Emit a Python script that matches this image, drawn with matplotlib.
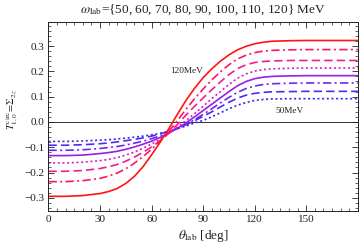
import numpy as np
import matplotlib
matplotlib.use("Agg")
import matplotlib.pyplot as plt
from matplotlib.ticker import MultipleLocator

plt.rcParams['font.family'] = ['Liberation Serif', 'DejaVu Serif']
plt.rcParams['mathtext.fontset'] = 'stix'

############################
# data #
############################

theta = [0, 10, 20, 30, 35, 40, 45, 50, 55, 60, 65, 70, 75, 80, 85, 90, 95, 100, 105, 110, 115, 120, 125, 130, 140, 150, 160, 170, 180]
energies = [50, 60, 70, 80, 90, 100, 110, 120]

t_50 = [-0.077, -0.077, -0.075, -0.072, -0.070, -0.067, -0.064, -0.060, -0.056, -0.051, -0.045, -0.037, -0.027, -0.016, -0.004, 0.006, 0.020, 0.036, 0.052, 0.066, 0.077, 0.085, 0.089, 0.091, 0.092, 0.092, 0.092, 0.092, 0.092]
t_60 = [-0.092, -0.092, -0.090, -0.086, -0.083, -0.079, -0.074, -0.069, -0.063, -0.056, -0.047, -0.037, -0.025, -0.011, 0.005, 0.022, 0.040, 0.059, 0.078, 0.094, 0.106, 0.113, 0.117, 0.119, 0.120, 0.121, 0.121, 0.121, 0.121]
t_70 = [-0.112, -0.112, -0.110, -0.105, -0.101, -0.097, -0.091, -0.084, -0.076, -0.066, -0.055, -0.042, -0.027, -0.010, 0.009, 0.030, 0.052, 0.075, 0.097, 0.117, 0.132, 0.142, 0.148, 0.151, 0.153, 0.154, 0.154, 0.154, 0.154]
t_80 = [-0.133, -0.133, -0.131, -0.125, -0.121, -0.116, -0.108, -0.099, -0.088, -0.076, -0.061, -0.044, -0.025, -0.004, 0.020, 0.045, 0.070, 0.095, 0.120, 0.143, 0.160, 0.171, 0.177, 0.180, 0.182, 0.183, 0.183, 0.183, 0.183]
t_90 = [-0.162, -0.162, -0.159, -0.153, -0.148, -0.141, -0.131, -0.119, -0.104, -0.087, -0.068, -0.046, -0.020, 0.005, 0.033, 0.062, 0.092, 0.120, 0.148, 0.173, 0.190, 0.201, 0.207, 0.210, 0.212, 0.213, 0.213, 0.213, 0.213]
t_100 = [-0.195, -0.195, -0.192, -0.184, -0.177, -0.168, -0.155, -0.139, -0.120, -0.099, -0.074, -0.045, -0.010, 0.027, 0.062, 0.095, 0.127, 0.158, 0.187, 0.211, 0.226, 0.235, 0.239, 0.241, 0.243, 0.243, 0.243, 0.243, 0.243]
t_110 = [-0.236, -0.236, -0.232, -0.223, -0.214, -0.202, -0.185, -0.163, -0.137, -0.108, -0.075, -0.038, 0.005, 0.050, 0.092, 0.130, 0.166, 0.198, 0.226, 0.249, 0.264, 0.274, 0.280, 0.283, 0.285, 0.286, 0.286, 0.286, 0.286]
t_120 = [-0.294, -0.294, -0.291, -0.283, -0.275, -0.263, -0.243, -0.215, -0.177, -0.130, -0.080, -0.027, 0.030, 0.085, 0.133, 0.175, 0.210, 0.240, 0.265, 0.285, 0.299, 0.309, 0.315, 0.319, 0.321, 0.322, 0.322, 0.322, 0.322]

curves = [t_50, t_60, t_70, t_80, t_90, t_100, t_110, t_120]

colors = ['#2a2af2', '#4a2cf5', '#6c28f0', '#9a1ee6', '#d21ec8', '#f01e8c', '#ff1464', '#ff1414']
styles = [(0, (1.2, 1.6)), (0, (5, 2.5)), (0, (5, 2, 1.2, 2)), '-'] * 2

fig = plt.figure(figsize=(3.59, 2.49), dpi=100)
ax = fig.add_axes([0.135, 0.1546, 0.8617, 0.757])

ax.axhline(0, color='#333333', lw=0.7, zorder=1)
for y, c, ls in zip(curves, colors, styles):
    ax.plot(theta, y, color=c, ls=ls, lw=1.2, zorder=2)

ax.text(80.5, 0.203, '120MeV', fontsize=6.7, ha='center', va='center', color='#222222')
ax.text(140, 0.045, '50MeV', fontsize=6.7, ha='center', va='center', color='#222222')

ax.set_xlim(0, 180)
ax.set_ylim(-0.35, 0.395)
ax.xaxis.set_minor_locator(MultipleLocator(5))
ax.yaxis.set_major_locator(MultipleLocator(0.1))
ax.yaxis.set_minor_locator(MultipleLocator(0.02))
ax.set_xticks([0, 30, 60, 90, 120, 150])
ax.set_yticks([-0.3, -0.2, -0.1, 0.0, 0.1, 0.2, 0.3])
ax.yaxis.set_major_formatter(plt.FuncFormatter(lambda v, p: f'{v:.1f}'.replace('-', '\u2212')))
ax.tick_params(which='both', direction='in', top=True, right=True, colors='#222222', labelsize=8, pad=3)
ax.tick_params(which='major', length=4, width=0.6)
ax.tick_params(which='minor', length=2, width=0.5)
for s in ax.spines.values():
    s.set_linewidth(0.7)
    s.set_color('#222222')

ax.set_xlabel(r'$\theta_{\rm lab}$ [deg]', fontsize=9.5, color='#222222', labelpad=3)
ax.set_ylabel(r'$T_{1,0}^{\rm circ}\!=\!\Sigma_{2z}$', fontsize=7.5, color='#222222')
ax.yaxis.set_label_coords(-0.088, 0.533)
fig.text(0.5655, 0.96, r'$\omega_{\rm lab}$={50, 60, 70, 80, 90, 100, 110, 120} MeV',
         fontsize=9.5, color='#222222', ha='center', va='center')

fig.savefig('out.png', dpi=100)
